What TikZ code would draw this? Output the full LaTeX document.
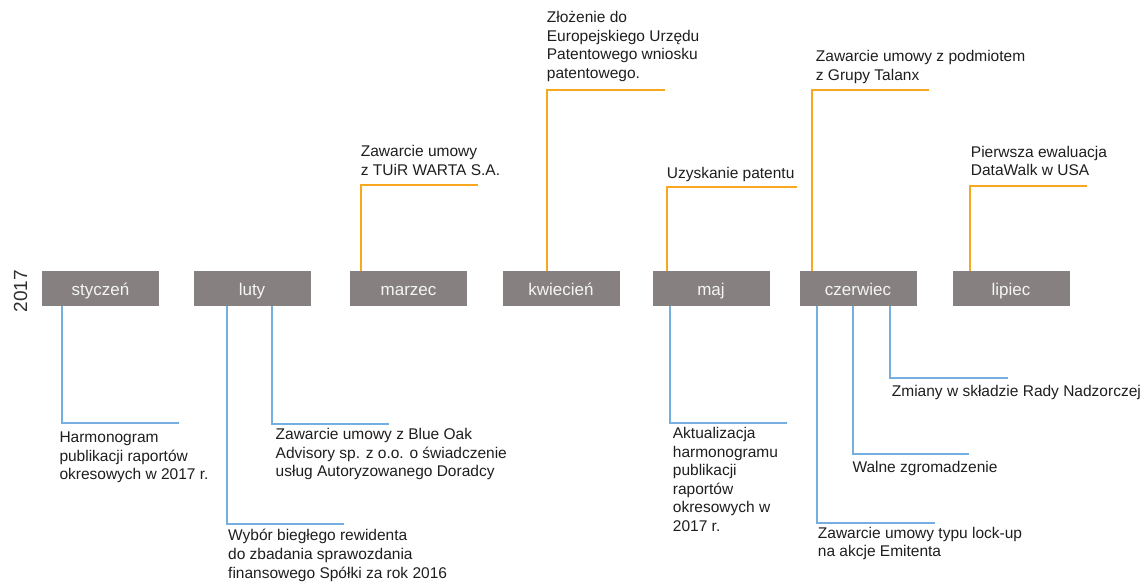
\documentclass[tikz,border=0pt]{standalone}
\usepackage{fontspec}
\setmainfont{Liberation Sans}
\definecolor{boxgray}{RGB}{134,129,128}
\definecolor{lineorange}{RGB}{247,168,30}
\definecolor{lineblue}{RGB}{118,174,224}
\definecolor{txt}{RGB}{30,30,30}
\begin{document}
\begin{tikzpicture}[x=1pt,y=-1pt,
  month/.style={fill=boxgray, minimum width=117pt, minimum height=35pt, inner sep=0pt,
    text height=16pt, text depth=3pt,
    text=white!96!black, font=\fontsize{17}{20}\selectfont},
  evt/.style={anchor=north west, inner sep=0pt, align=left, text=txt,
    font=\fontsize{15.5}{18.6}\selectfont, execute at begin node={\rule{0pt}{15pt}}},
  oline/.style={draw=lineorange, line width=2pt},
  bline/.style={draw=lineblue, line width=2pt}]
\useasboundingbox (0,0) rectangle (1145,584);

% year
\node[rotate=90, text=black!82, font=\fontsize{19}{22}\selectfont, inner sep=0pt] (year) at (20.5,291) {2017};

% months
\node[month] (sty) at (100.5,288.5) {styczeń};
\node[month] (lut) at (252,288.5) {luty};
\node[month] (mar) at (408.5,288.5) {marzec};
\node[month] (kwi) at (561,288.5) {kwiecień};
\node[month] (maj) at (711,288.5) {maj};
\node[month] (cze) at (858,288.5) {czerwiec};
\node[month] (lip) at (1011,288.5) {lipiec};

% top events
\node[evt] (tuir) at (360.7,145) {Zawarcie umowy\\z TUiR WARTA S.A.};
\node[evt] (zloz) at (546.7,11) {Złożenie do\\Europejskiego Urzędu\\Patentowego wniosku\\patentowego.};
\node[evt] (uzysk) at (666.7,163.7) {Uzyskanie patentu};
\node[evt] (talanx) at (815.7,50) {Zawarcie umowy z podmiotem\\z Grupy Talanx};
\node[evt] (dw) at (970.7,145.7) {Pierwsza ewaluacja\\DataWalk w USA};

% bottom events
\node[evt] (harm) at (59.3,431.7) {Harmonogram\\publikacji raportów\\okresowych w 2017 r.};
\node[evt] (wybor) at (228,529.3) {Wybór biegłego rewidenta\\do zbadania sprawozdania\\finansowego Spółki za rok 2016};
\node[evt] (boak) at (275.5,428.3) {Zawarcie umowy z Blue Oak\\Advisory sp. z o.o. o świadczenie\\usług Autoryzowanego Doradcy};
\node[evt] (aktual) at (672.7,427) {Aktualizacja\\harmonogramu\\publikacji\\raportów\\okresowych w\\2017 r.};
\node[evt] (zmiany) at (891.7,381.7) {Zmiany w składzie Rady Nadzorczej};
\node[evt] (walne) at (852.3,457.7) {Walne zgromadzenie};
\node[evt] (lockup) at (817.7,526.7) {Zawarcie umowy typu lock-up\\na akcje Emitenta};

% connector corners and ends
\coordinate (cMar) at (361,185);     \coordinate (eMar) at (478,185);
\coordinate (cKwi) at (546.7,90);    \coordinate (eKwi) at (665,90);
\coordinate (cMajT) at (666.7,186.7); \coordinate (eMajT) at (797,186.7);
\coordinate (cCzeT) at (812,90);     \coordinate (eCzeT) at (929,90);
\coordinate (cLip) at (970.3,186.3); \coordinate (eLip) at (1087,186.3);

\coordinate (cSty) at (62,422.7);    \coordinate (eSty) at (179.3,422.7);
\coordinate (cLutA) at (226.7,524.3); \coordinate (eLutA) at (344,524.3);
\coordinate (cLutB) at (271.7,424);  \coordinate (eLutB) at (389,424);
\coordinate (cMajB) at (670,423.3);  \coordinate (eMajB) at (787,423.3);
\coordinate (cCzeA) at (817.3,522.7); \coordinate (eCzeA) at (935,522.7);
\coordinate (cCzeB) at (853,454);    \coordinate (eCzeB) at (969,454);
\coordinate (cCzeC) at (890,378.3);  \coordinate (eCzeC) at (1008,378.3);

% orange connectors
\draw[oline] (mar.north -| cMar) -- (cMar) -- (eMar);
\draw[oline] (kwi.north -| cKwi) -- (cKwi) -- (eKwi);
\draw[oline] (maj.north -| cMajT) -- (cMajT) -- (eMajT);
\draw[oline] (cze.north -| cCzeT) -- (cCzeT) -- (eCzeT);
\draw[oline] (lip.north -| cLip) -- (cLip) -- (eLip);

% blue connectors
\draw[bline] (sty.south -| cSty) -- (cSty) -- (eSty);
\draw[bline] (lut.south -| cLutA) -- (cLutA) -- (eLutA);
\draw[bline] (lut.south -| cLutB) -- (cLutB) -- (eLutB);
\draw[bline] (maj.south -| cMajB) -- (cMajB) -- (eMajB);
\draw[bline] (cze.south -| cCzeA) -- (cCzeA) -- (eCzeA);
\draw[bline] (cze.south -| cCzeB) -- (cCzeB) -- (eCzeB);
\draw[bline] (cze.south -| cCzeC) -- (cCzeC) -- (eCzeC);
\end{tikzpicture}
\end{document}
